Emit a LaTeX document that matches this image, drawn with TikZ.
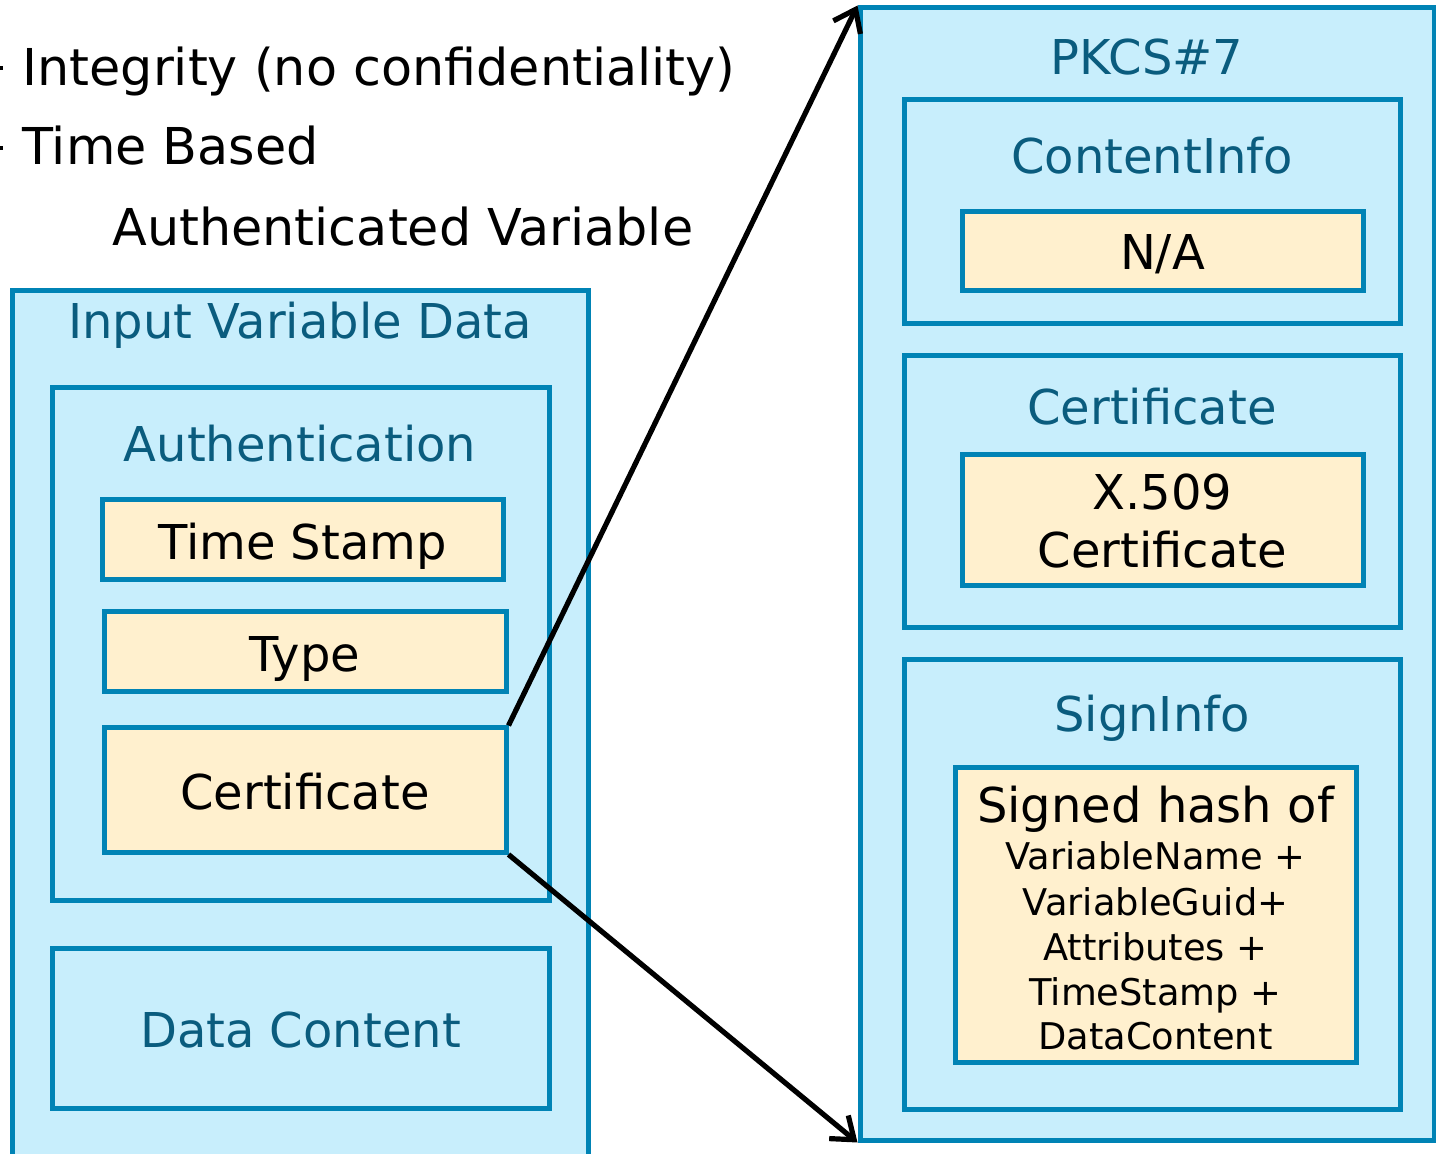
\documentclass[tikz,border=0pt]{standalone}
\usepackage{fontspec}
\setmainfont{DejaVu Sans}
\usetikzlibrary{arrows.meta}
\definecolor{boxblue}{HTML}{C8EEFC}
\definecolor{edgeblue}{HTML}{0083B5}
\definecolor{titleblue}{HTML}{0A5C7E}
\definecolor{cream}{HTML}{FFF0CE}
\newcommand{\px}{0.5pt}
\tikzset{
  bluebox/.style={draw=edgeblue, fill=boxblue, line width=2.5pt, rectangle, inner sep=0pt},
  creambox/.style={draw=edgeblue, fill=cream, line width=2.5pt, rectangle, inner sep=0pt},
  ttl/.style={text=titleblue, font=\fontsize{24}{28}\selectfont, anchor=base, inner sep=0pt},
  blk/.style={text=black, font=\fontsize{24}{28}\selectfont, anchor=base, inner sep=0pt},
  small/.style={text=black, font=\fontsize{18.4}{22}\selectfont, anchor=base, inner sep=0pt},
  big/.style={text=black, font=\fontsize{25.4}{30}\selectfont, anchor=base west, inner sep=0pt},
  arr/.style={line width=2.6pt, -{Straight Barb[length=10pt,width=15pt,line width=2.6pt]}, black},
}
\begin{document}
\begin{tikzpicture}[x=0.5pt,y=-0.5pt]
\useasboundingbox (0,0) rectangle (1436,1154);
% bullet remnants
\fill (0,66) rectangle (3,70);
\fill (0,146) rectangle (3,150);
\node[big] (t1) at (22,86) {Integrity (no confidentiality)};
\node[big] (t2) at (22,165) {Time Based};
\node[big] (t3) at (112,246) {Authenticated Variable};
% left structure
\node[bluebox, minimum width=576*\px, minimum height=874*\px] (ivd) at (300,728) {};
\node[ttl] (ivdt) at (300,339) {Input Variable Data};
\node[bluebox, minimum width=497*\px, minimum height=512*\px] (auth) at (300.5,644) {};
\node[ttl] (autht) at (300,462) {Authentication};
\node[creambox, minimum width=401*\px, minimum height=80*\px] (ts) at (302.5,540) {};
\node[blk] (tst) at (302.5,560) {Time Stamp};
\node[creambox, minimum width=402*\px, minimum height=80*\px] (type) at (305,652) {};
\node[blk] (typet) at (305,672) {Type};
\node[creambox, minimum width=402*\px, minimum height=124*\px] (cert) at (305,790) {};
\node[blk] (certt) at (305,810) {Certificate};
\node[bluebox, minimum width=497*\px, minimum height=160*\px] (dc) at (300.5,1028) {};
\node[ttl] (dct) at (300.5,1047) {Data Content};
% right structure
\node[bluebox, minimum width=574*\px, minimum height=1132*\px] (pk) at (1147,574) {};
\node[ttl] (pkt) at (1147,75) {PKCS\#7};
\node[bluebox, minimum width=496*\px, minimum height=224*\px] (ci) at (1152,212) {};
\node[ttl] (cit) at (1152,174) {ContentInfo};
\node[creambox, minimum width=401*\px, minimum height=79*\px] (na) at (1162.5,251.5) {};
\node[blk] (nat) at (1162.5,270) {N/A};
\node[bluebox, minimum width=496*\px, minimum height=272*\px] (cr) at (1152,492) {};
\node[ttl] (crt) at (1152,425) {Certificate};
\node[creambox, minimum width=401*\px, minimum height=131*\px] (x5) at (1162.5,520.5) {};
\node[blk] (x5a) at (1162.5,510) {X.509};
\node[blk] (x5b) at (1162.5,568) {Certificate};
\node[bluebox, minimum width=496*\px, minimum height=449*\px] (si) at (1152,884.5) {};
\node[ttl] (sit) at (1152,732) {SignInfo};
\node[creambox, minimum width=401*\px, minimum height=294*\px] (hs) at (1155.5,915) {};
\node[blk] (hs0) at (1155.5,823) {Signed hash of};
\node[small] (hs1) at (1155.5,870) {VariableName +};
\node[small] (hs2) at (1155.5,915) {VariableGuid+};
\node[small] (hs3) at (1155.5,960) {Attributes +};
\node[small] (hs4) at (1155.5,1005) {TimeStamp +};
\node[small] (hs5) at (1155.5,1049) {DataContent};
% arrows
\draw[arr] (cert.north east) -- (pk.north west);
\draw[arr] (cert.south east) -- (pk.south west);
\end{tikzpicture}
\end{document}
